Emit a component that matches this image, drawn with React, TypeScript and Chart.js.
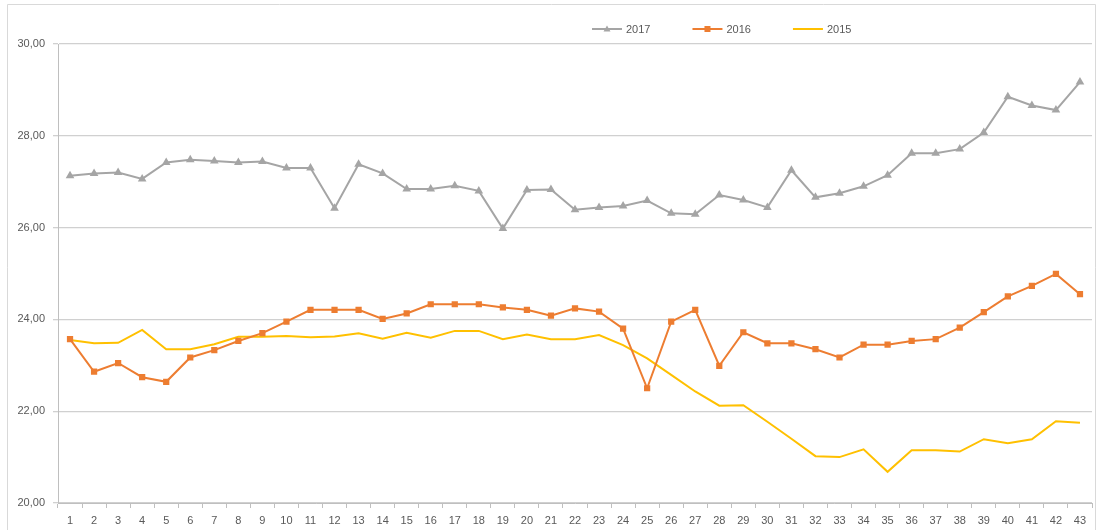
import React, { useEffect, useRef } from "react";
import { Chart, registerables } from "chart.js";

Chart.register(...registerables);

const categories: string[] = Array.from({ length: 43 }, (_, i) => String(i + 1));

const series2017: number[] = [
  27.13, 27.18, 27.2, 27.06, 27.42, 27.48, 27.45, 27.42, 27.44, 27.3,
  27.3, 26.42, 27.38, 27.18, 26.84, 26.84, 26.91, 26.8, 25.98, 26.82,
  26.83, 26.39, 26.44, 26.47, 26.59, 26.31, 26.29, 26.71, 26.6, 26.44,
  27.25, 26.66, 26.75, 26.9, 27.14, 27.62, 27.62, 27.71, 28.07, 28.85,
  28.66, 28.56, 29.17,
];

const series2016: number[] = [
  23.57, 22.86, 23.05, 22.74, 22.64, 23.17, 23.33, 23.53, 23.7, 23.95,
  24.21, 24.21, 24.21, 24.01, 24.13, 24.33, 24.33, 24.33, 24.26, 24.21,
  24.08, 24.24, 24.17, 23.8, 22.5, 23.95, 24.21, 22.99, 23.72, 23.48,
  23.48, 23.35, 23.17, 23.45, 23.45, 23.53, 23.57, 23.82, 24.16, 24.5,
  24.73, 24.99, 24.55,
];

const series2015: number[] = [
  23.55, 23.48, 23.49, 23.77, 23.35, 23.35, 23.46, 23.62, 23.62, 23.64,
  23.61, 23.63, 23.7, 23.58, 23.71, 23.6, 23.75, 23.75, 23.57, 23.67,
  23.57, 23.57, 23.66, 23.44, 23.15, 22.79, 22.43, 22.12, 22.13, 21.77,
  21.4, 21.02, 21.0, 21.17, 20.68, 21.15, 21.15, 21.12, 21.39, 21.3,
  21.39, 21.78, 21.75,
];

const yTicks: number[] = [20, 22, 24, 26, 28, 30];

const FONT = "'Liberation Sans', Arial, sans-serif";
const TEXT = "#595959";

const framePlugin = {
  id: "frame",
  beforeDraw(chart: any) {
    const ctx = chart.ctx;
    ctx.save();
    ctx.fillStyle = "#ffffff";
    ctx.fillRect(0, 0, chart.width, chart.height);
    ctx.strokeStyle = "#d9d9d9";
    ctx.lineWidth = 1;
    ctx.beginPath();
    ctx.moveTo(7.5, chart.height + 2);
    ctx.lineTo(7.5, 4.5);
    ctx.lineTo(1095.5, 4.5);
    ctx.lineTo(1095.5, chart.height + 2);
    ctx.stroke();
    ctx.restore();
  },
};

const legendPlugin = {
  id: "customLegend",
  afterDraw(chart: any) {
    const ctx = chart.ctx;
    ctx.save();
    ctx.font = `11px ${FONT}`;
    ctx.textBaseline = "middle";
    let x = 592;
    const y = 29;
    chart.data.datasets.forEach((ds: any) => {
      ctx.strokeStyle = ds.borderColor;
      ctx.lineWidth = 2;
      ctx.beginPath();
      ctx.moveTo(x, y);
      ctx.lineTo(x + 30, y);
      ctx.stroke();
      const cx = x + 15;
      ctx.fillStyle = ds.pointBackgroundColor || ds.borderColor;
      if (ds.pointStyle === "rect") {
        ctx.fillRect(cx - 3, y - 3, 6, 6);
      } else if (ds.pointStyle === "triangle") {
        ctx.beginPath();
        ctx.moveTo(cx, y - 3.5);
        ctx.lineTo(cx + 3.5, y + 2.5);
        ctx.lineTo(cx - 3.5, y + 2.5);
        ctx.closePath();
        ctx.fill();
      }
      ctx.fillStyle = TEXT;
      ctx.textAlign = "left";
      ctx.fillText(ds.label, x + 34, y + 1);
      const w = ctx.measureText(ds.label).width;
      x += 34 + w + 42;
    });
    ctx.restore();
  },
};

export default function App() {
  const ref = useRef<HTMLCanvasElement | null>(null);

  useEffect(() => {
    if (!ref.current) return;
    const chart = new Chart(ref.current, {
      type: "line",
      data: {
        labels: categories,
        datasets: [
          {
            label: "2017",
            data: series2017,
            borderColor: "#a5a5a5",
            backgroundColor: "#a5a5a5",
            pointBackgroundColor: "#a5a5a5",
            pointBorderColor: "#a5a5a5",
            pointStyle: "triangle",
            pointRadius: 3,
            borderWidth: 2,
            tension: 0,
          },
          {
            label: "2016",
            data: series2016,
            borderColor: "#ed7d31",
            backgroundColor: "#ed7d31",
            pointBackgroundColor: "#ed7d31",
            pointBorderColor: "#ed7d31",
            pointStyle: "rect",
            pointRadius: 3,
            borderWidth: 2,
            tension: 0,
          },
          {
            label: "2015",
            data: series2015,
            borderColor: "#ffc000",
            backgroundColor: "#ffc000",
            pointRadius: 0,
            borderWidth: 2,
            tension: 0,
          },
        ],
      },
      options: {
        animation: false,
        responsive: true,
        maintainAspectRatio: false,
        layout: { padding: { left: 0, top: 44, right: 10, bottom: 0 } },
        plugins: {
          legend: { display: false },
          tooltip: { enabled: false },
        },
        scales: {
          x: {
            offset: true,
            grid: {
              offset: true,
              drawOnChartArea: false,
              drawTicks: true,
              tickLength: 5,
              color: "#bfbfbf",
            },
            border: { display: true, color: "#bfbfbf", width: 1 },
            ticks: {
              color: TEXT,
              font: { family: FONT, size: 11 },
              padding: 6,
              autoSkip: false,
              maxRotation: 0,
            },
            afterFit: (scale: any) => {
              scale.height = 27;
            },
          },
          y: {
            min: 20,
            max: 30,
            afterBuildTicks: (scale: any) => {
              scale.ticks = yTicks.map((v) => ({ value: v }));
            },
            grid: {
              color: "#d0d0d0",
              lineWidth: 1.3,
              tickLength: 5,
            },
            border: { display: true, color: "#bfbfbf", width: 1 },
            ticks: {
              color: TEXT,
              font: { family: FONT, size: 11 },
              padding: 8,
              callback: (v: any) => Number(v).toFixed(2).replace(".", ","),
            },
            afterFit: (scale: any) => {
              scale.width = 58;
            },
          },
        },
      },
      plugins: [framePlugin, legendPlugin],
    });
    return () => chart.destroy();
  }, []);

  return (
    <div style={{ position: "fixed", left: 0, top: 0, width: 1102, height: 530, background: "#fff" }}>
      <canvas ref={ref} />
    </div>
  );
}
